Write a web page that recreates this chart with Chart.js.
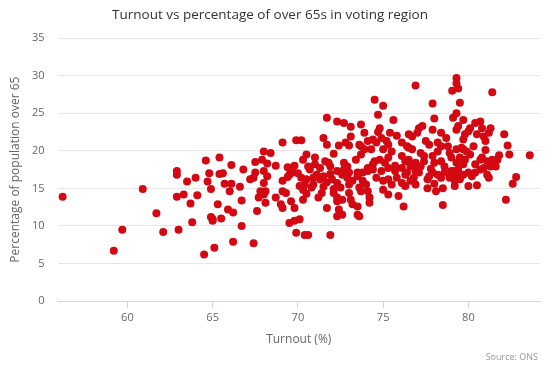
<!DOCTYPE html>
<html>
<head>
<meta charset="utf-8">
<script src="https://cdn.jsdelivr.net/npm/chart.js@4.4.0/dist/chart.umd.min.js"></script>
<style>
  body { margin: 0; background: #fff; }
  #wrap { width: 556px; height: 373px; }
</style>
</head>
<body>
<div id="wrap"><canvas id="scatterChart"></canvas></div>
<script>
// turnout (%) and share of population over 65 (%) per voting region
const turnout = [
  56.2, 60.9, 62.9, 62.9, 62.9, 61.7, 59.7, 62.1, 63.0, 59.2,
  64.6, 65.4, 66.1, 66.8, 63.5, 64.0, 64.8, 65.4, 65.6, 64.7,
  65.7, 66.1, 67.2, 64.9, 66.0, 66.6, 63.3, 64.1, 63.7, 65.3,
  66.7, 65.9, 66.2, 64.9, 65.0, 65.0, 65.5, 63.8, 66.7, 66.2,
  65.1, 64.5,
  69.1, 69.9, 70.2, 68.0, 68.4, 67.5, 67.9, 68.2, 68.7, 70.3,
  70.5, 69.4, 69.8, 69.7, 69.5, 69.4, 67.5, 67.4, 68.0, 68.2,
  70.2, 70.5, 70.4, 68.0, 69.1, 70.1, 67.8, 68.1, 68.0, 67.7,
  69.1, 69.3, 70.3, 68.7, 69.0, 69.1, 69.6, 69.8, 70.3, 68.1,
  67.6, 69.5, 69.8, 70.1, 69.9, 70.4, 70.6, 67.4,
  71.7, 72.3, 72.7, 73.1, 73.1, 71.5, 71.7, 72.4, 72.8, 73.0,
  73.6, 71.0, 71.6, 71.8, 71.9, 72.7, 72.9, 70.7, 71.3, 71.1,
  72.3, 72.7, 73.0, 72.9, 73.5, 70.9, 71.3, 71.5, 70.9, 70.8,
  71.7, 71.5, 72.3, 72.1, 72.5, 73.0, 71.4, 72.1, 72.3, 72.3,
  72.6, 73.0, 73.1, 73.2, 71.7, 72.4, 72.3, 72.6, 73.5, 73.5, 71.9,
  70.0, 70.6, 71.0, 72.0, 72.6, 73.2, 71.9, 70.5, 71.2, 73.4, 72.1,
  74.5, 75.0, 74.7, 75.6, 73.7, 73.9, 74.8, 74.7, 75.4, 75.8,
  74.1, 74.4, 74.6, 74.9, 75.2, 75.3, 76.1, 76.4, 73.7, 73.9,
  74.3, 73.7, 75.0, 75.5, 76.1, 76.3, 74.5, 74.8, 75.1, 75.3, 74.1,
  73.5, 73.8, 74.1, 74.4, 73.8, 74.0, 73.6, 73.7, 74.1, 74.2,
  74.2, 73.6, 74.9, 75.3, 75.7, 76.1, 76.3, 75.0, 75.3, 75.8,
  75.5, 76.1, 76.3, 75.3, 75.9, 76.2,
  75.7, 76.8, 74.6, 75.0, 74.4,
  76.9, 77.9, 78.0, 77.1, 77.3, 76.5, 76.7, 77.0, 77.9, 78.4,
  78.7, 77.5, 77.7, 76.5, 76.7, 78.2, 78.4, 78.2, 77.2, 77.4,
  78.8, 76.5, 76.9, 77.0, 77.9, 78.0, 78.4, 78.6, 79.0,
  76.6, 77.0, 77.2, 76.4, 76.9, 77.1, 77.7, 77.9, 78.2, 78.6,
  79.0, 77.6, 78.4, 78.9, 76.6, 76.9, 77.6, 78.1, 78.5, 78.5,
  77.4, 77.8, 78.0, 79.5, 80.2,
  79.3, 79.3, 79.4, 79.05, 81.4, 79.5, 79.3, 79.1, 79.7, 80.4,
  80.7, 79.4, 79.3, 80.1, 80.0, 80.8, 81.3, 81.2, 79.8, 79.7,
  80.9, 81.0, 79.3, 79.6, 79.7, 78.9, 79.5, 79.8, 80.1, 80.7,
  80.8, 81.1, 81.4, 81.7, 79.3, 79.7, 80.4, 81.3,
  79.9, 80.3, 80.5, 81.0,
  79.1, 79.4, 79.3, 79.7, 80.0, 79.2, 79.2, 80.4, 80.7, 80.9,
  81.1, 81.2, 80.0, 80.5, 81.6,
  82.1, 82.3, 81.8, 82.4, 83.6, 82.8, 82.6, 82.2
];

const over65 = [
  13.9, 14.9, 13.9, 16.8, 17.3, 11.7, 9.5, 9.2, 9.5, 6.7,
  18.7, 19.1, 18.1, 17.5, 15.9, 16.4, 17.0, 16.9, 17.0, 15.9,
  15.6, 15.6, 16.2, 14.9, 14.6, 15.2, 14.2, 14.1, 13.0, 12.9,
  13.4, 12.2, 11.8, 11.2, 10.9, 10.7, 11.0, 10.5, 10.0, 7.9,
  7.1, 6.2,
  21.1, 21.4, 21.4, 19.9, 19.7, 18.5, 18.8, 18.3, 18.0, 18.8,
  19.5, 17.8, 18.0, 17.1, 16.8, 16.5, 17.1, 16.4, 17.3, 16.6,
  16.4, 16.2, 15.5, 15.7, 16.0, 15.3, 14.6, 14.6, 14.2, 13.8,
  14.6, 14.4, 14.8, 13.8, 12.9, 12.4, 13.3, 12.4, 13.5, 13.1,
  12.0, 10.4, 10.7, 10.9, 9.1, 8.8, 8.8, 7.7,
  24.4, 23.9, 23.7, 23.2, 21.9, 21.7, 20.8, 20.7, 21.1, 20.7,
  20.8, 19.1, 18.6, 18.4, 17.9, 18.4, 17.9, 17.5, 17.7, 16.8,
  17.3, 17.5, 17.1, 16.4, 17.1, 16.4, 16.2, 16.6, 15.5, 15.1,
  15.8, 15.2, 15.7, 14.9, 15.1, 15.5, 14.4, 14.4, 13.8, 13.3,
  13.5, 14.4, 13.5, 12.9, 12.4, 12.2, 11.3, 11.5, 12.6, 11.5, 8.8,
  17.0, 17.9, 18.2, 16.2, 16.8, 16.0, 16.9, 14.3, 13.8, 18.8, 19.6,
  26.8, 26.0, 24.8, 24.1, 23.5, 22.4, 23.0, 22.5, 22.4, 22.0,
  21.3, 21.5, 21.1, 21.7, 21.3, 20.8, 21.1, 20.6, 20.6, 20.2,
  20.2, 19.5, 20.2, 19.9, 19.3, 18.6, 18.6, 18.8, 18.4, 19.1, 17.7,
  16.6, 17.1, 17.3, 17.5, 16.0, 15.5, 15.1, 14.6, 14.6, 13.8,
  13.1, 11.3, 17.3, 17.7, 17.3, 17.7, 16.8, 16.0, 16.2, 16.4,
  15.5, 15.7, 15.3, 14.2, 14.0, 12.6,
  18.0, 16.4, 16.4, 14.8, 18.2,
  28.7, 26.3, 24.3, 23.0, 23.3, 22.2, 21.9, 22.4, 22.8, 22.4,
  21.7, 21.3, 20.8, 20.4, 20.2, 21.1, 20.6, 19.9, 19.7, 19.3,
  20.6, 18.8, 18.4, 17.9, 19.3, 18.4, 18.6, 17.9, 19.1,
  17.9, 17.7, 17.9, 17.1, 17.3, 17.1, 16.6, 17.1, 16.8, 17.1,
  17.3, 16.2, 16.4, 16.4, 16.0, 15.5, 15.0, 14.6, 15.0, 12.8,
  18.6, 17.6, 15.6, 16.2, 16.6,
  29.7, 29.0, 28.3, 28.0, 27.8, 26.4, 25.0, 24.4, 24.1, 23.7,
  23.9, 23.3, 22.8, 23.0, 22.6, 23.0, 23.0, 22.4, 22.2, 21.5,
  21.9, 21.3, 20.2, 20.4, 20.2, 19.7, 19.1, 18.8, 19.5, 18.8,
  19.1, 18.6, 18.8, 18.8, 18.4, 18.2, 18.2, 17.9,
  19.9, 20.6, 22.2, 20.1,
  17.3, 17.5, 16.6, 16.8, 17.1, 16.0, 15.3, 17.1, 17.5, 17.7,
  16.8, 16.4, 15.3, 15.4, 17.9,
  22.2, 20.7, 19.4, 19.5, 19.4, 16.5, 15.6, 13.5
];

const xTicks = [60, 65, 70, 75, 80];
const yTicks = [0, 5, 10, 15, 20, 25, 30, 35];

Chart.defaults.font.family = "'Open Sans', sans-serif";

const creditsPlugin = {
    id: "credits",
    afterDraw(chart) {
        const c = chart.ctx;
        c.save();
        c.font = "9px 'Open Sans', sans-serif";
        c.fillStyle = "#999999";
        c.textAlign = "right";
        c.textBaseline = "middle";
        c.fillText("Source: ONS", 538, 357);
        c.restore();
    }
};

const ctx = document.getElementById("scatterChart").getContext("2d");

const chart = new Chart(ctx, {
    type: "scatter",
    data: {
        datasets: [{
            label: "Voting regions",
            data: turnout.map((t, i) => ({ x: t, y: over65[i] })),
            backgroundColor: "rgb(212, 8, 18)",
            borderWidth: 0,
            pointRadius: 4,
            pointHoverRadius: 4
        }]
    },
    options: {
        responsive: true,
        maintainAspectRatio: false,
        animation: false,
        events: [],
        layout: { padding: { left: 0, right: 16, top: 0, bottom: 0 } },
        plugins: {
            legend: { display: false },
            tooltip: { enabled: false },
            title: {
                display: true,
                text: "Turnout vs percentage of over 65s in voting region",
                color: "#333333",
                font: { size: 13.5, weight: "normal" },
                padding: { top: 7, bottom: 15 }
            }
        },
        scales: {
            x: {
                type: "linear",
                min: 55.9,
                max: 84.2,
                afterBuildTicks: (scale) => { scale.ticks = xTicks.map(v => ({ value: v })); },
                afterFit: (scale) => { scale.height = 72; },
                grid: { drawOnChartArea: false, drawTicks: true, tickLength: 7, color: "#ccd6eb" },
                border: { color: "#ccd6eb" },
                ticks: { color: "#666666", font: { size: 11 }, padding: 3, maxRotation: 0 },
                title: {
                    display: true,
                    text: "Turnout (%)",
                    color: "#666666",
                    font: { size: 12 },
                    padding: { top: 0, bottom: 26 }
                }
            },
            y: {
                min: 0,
                max: 35,
                afterBuildTicks: (scale) => { scale.ticks = yTicks.map(v => ({ value: v })); },
                afterFit: (scale) => { scale.width = 57.5; },
                grid: { color: "#e6e6e6", drawTicks: false },
                border: { display: false },
                ticks: { color: "#666666", font: { size: 11 }, padding: 13 },
                title: {
                    display: true,
                    text: "Percentage of population over 65",
                    color: "#666666",
                    font: { size: 12 },
                    padding: { top: 8, bottom: 0 }
                }
            }
        }
    },
    plugins: [creditsPlugin]
});
</script>
</body>
</html>
